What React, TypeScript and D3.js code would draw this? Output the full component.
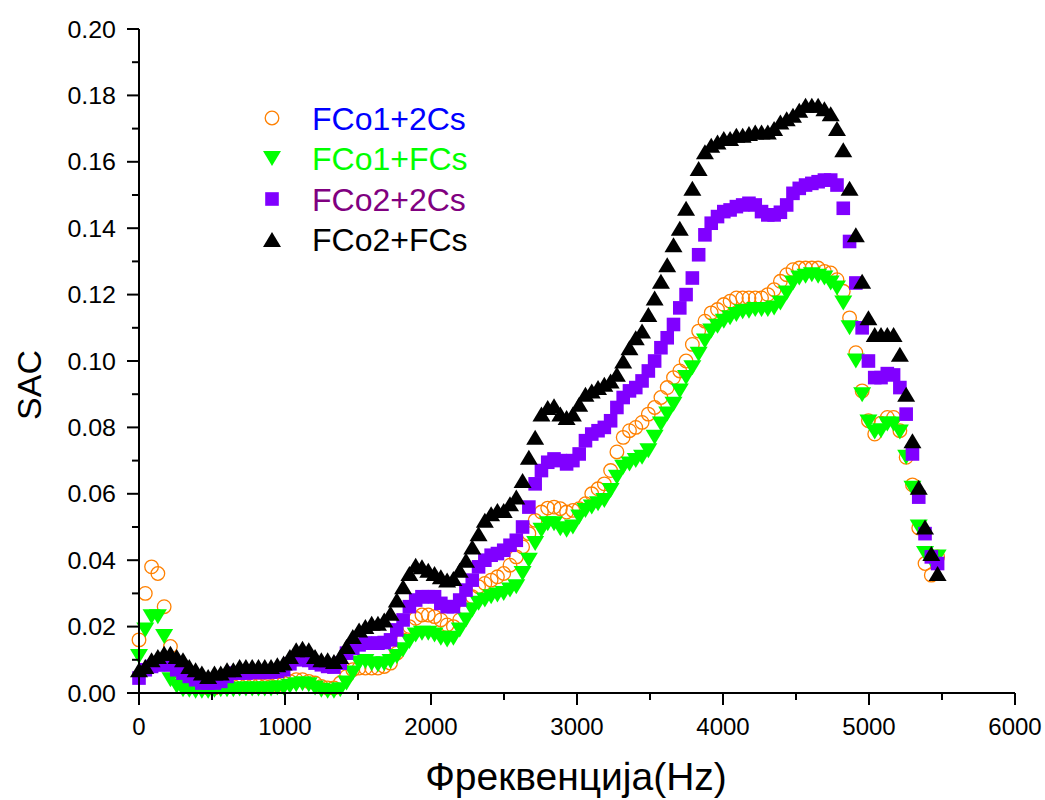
import React from 'react';
import * as d3 from 'd3';

// Frequency bins (Hz): uniform FFT bin spacing
const FREQ_STEP = 43.07;

const FCO1_2CS = [
  0.016, 0.030, 0.038, 0.036, 0.026, 0.014, 0.008, 0.005, 0.003, 0.002,
  0.002, 0.0015, 0.0015, 0.002, 0.002, 0.002, 0.0022, 0.0022, 0.0022, 0.0022,
  0.002, 0.002, 0.0025, 0.003, 0.0035, 0.004, 0.004, 0.0035, 0.003, 0.002,
  0.0015, 0.0015, 0.003, 0.005, 0.007, 0.0075, 0.0075, 0.0075, 0.0075, 0.008,
  0.009, 0.012, 0.016, 0.020, 0.0225, 0.0235, 0.0235, 0.023, 0.022, 0.0205,
  0.020, 0.022, 0.025, 0.029, 0.032, 0.033, 0.034, 0.035, 0.036, 0.0385,
  0.041, 0.044, 0.048, 0.052, 0.0545, 0.0557, 0.056, 0.0555, 0.0545, 0.055,
  0.0555, 0.057, 0.060, 0.0615, 0.063, 0.067, 0.0726, 0.077, 0.079, 0.080,
  0.0815, 0.084, 0.086, 0.089, 0.092, 0.095, 0.097, 0.100, 0.105, 0.109,
  0.112, 0.1145, 0.1155, 0.117, 0.118, 0.119, 0.119, 0.119, 0.119, 0.119,
  0.120, 0.1215, 0.124, 0.126, 0.1275, 0.128, 0.128, 0.128, 0.128, 0.127,
  0.1265, 0.1245, 0.121, 0.113, 0.1025, 0.091, 0.082, 0.078, 0.0813, 0.083,
  0.083, 0.079, 0.071, 0.0627, 0.0497, 0.039, 0.0355, 0.041,
];

const FCO1_FCS = [
  0.011, 0.019, 0.023, 0.023, 0.017, 0.004, 0.002, 0.001, 0.0008, 0.0005,
  0.0005, 0.0005, 0.0008, 0.001, 0.001, 0.001, 0.0012, 0.0012, 0.0012, 0.0012,
  0.0012, 0.0012, 0.0015, 0.0015, 0.002, 0.0025, 0.0028, 0.0025, 0.0015, 0.0008,
  0.0005, 0.0005, 0.001, 0.003, 0.006, 0.009, 0.0095, 0.0088, 0.0085, 0.0088,
  0.0095, 0.011, 0.013, 0.0155, 0.0175, 0.018, 0.018, 0.0175, 0.0165, 0.016,
  0.0165, 0.019, 0.022, 0.025, 0.027, 0.028, 0.029, 0.0295, 0.030, 0.031,
  0.032, 0.036, 0.040, 0.045, 0.049, 0.051, 0.051, 0.0495, 0.049, 0.050,
  0.053, 0.055, 0.056, 0.057, 0.058, 0.061, 0.065, 0.068, 0.069, 0.070,
  0.071, 0.073, 0.077, 0.081, 0.084, 0.087, 0.091, 0.095, 0.098, 0.102,
  0.106, 0.109, 0.1105, 0.112, 0.113, 0.114, 0.1148, 0.115, 0.1155, 0.1155,
  0.1155, 0.116, 0.1175, 0.1205, 0.1235, 0.125, 0.1255, 0.126, 0.1255, 0.125,
  0.1235, 0.122, 0.1175, 0.110, 0.100, 0.0898, 0.0816, 0.0786, 0.079, 0.081,
  0.081, 0.0786, 0.071, 0.0617, 0.050, 0.042, 0.040, 0.041,
];

const FCO2_2CS = [
  0.0045, 0.007, 0.008, 0.0085, 0.0085, 0.0085, 0.007, 0.006, 0.005, 0.004,
  0.003, 0.003, 0.003, 0.0035, 0.005, 0.006, 0.006, 0.006, 0.0062, 0.0062,
  0.0062, 0.0063, 0.0065, 0.007, 0.0088, 0.010, 0.0105, 0.0098, 0.009, 0.0085,
  0.008, 0.0078, 0.009, 0.012, 0.0135, 0.0145, 0.015, 0.015, 0.015, 0.0152,
  0.016, 0.019, 0.022, 0.026, 0.028, 0.029, 0.029, 0.029, 0.027, 0.026,
  0.026, 0.028, 0.031, 0.034, 0.038, 0.040, 0.0415, 0.042, 0.043, 0.0445,
  0.046, 0.050, 0.056, 0.063, 0.067, 0.0695, 0.0705, 0.070, 0.069, 0.070,
  0.072, 0.076, 0.078, 0.079, 0.080, 0.082, 0.086, 0.089, 0.091, 0.092,
  0.094, 0.097, 0.100, 0.104, 0.107, 0.111, 0.116, 0.120, 0.125, 0.132,
  0.138, 0.1415, 0.1435, 0.145, 0.1455, 0.1465, 0.147, 0.1475, 0.147, 0.145,
  0.144, 0.144, 0.1448, 0.147, 0.1505, 0.152, 0.153, 0.1535, 0.154, 0.1545,
  0.1545, 0.153, 0.146, 0.136, 0.1235, 0.110, 0.100, 0.095, 0.095, 0.0962,
  0.0958, 0.092, 0.084, 0.072, 0.059, 0.048, 0.041, 0.039,
];

const FCO2_FCS = [
  0.007, 0.008, 0.010, 0.011, 0.012, 0.012, 0.011, 0.010, 0.008, 0.007,
  0.006, 0.005, 0.006, 0.006, 0.007, 0.007, 0.008, 0.008, 0.008, 0.008,
  0.008, 0.008, 0.0085, 0.009, 0.011, 0.013, 0.0135, 0.013, 0.011, 0.010,
  0.010, 0.0095, 0.011, 0.014, 0.017, 0.019, 0.020, 0.021, 0.021, 0.022,
  0.024, 0.028, 0.032, 0.036, 0.0385, 0.038, 0.037, 0.036, 0.035, 0.034,
  0.0345, 0.037, 0.040, 0.044, 0.048, 0.052, 0.054, 0.055, 0.055, 0.057,
  0.059, 0.064, 0.071, 0.077, 0.084, 0.086, 0.0865, 0.084, 0.083, 0.084,
  0.087, 0.090, 0.091, 0.092, 0.093, 0.094, 0.096, 0.100, 0.104, 0.107,
  0.109, 0.114, 0.119, 0.124, 0.129, 0.135, 0.140, 0.146, 0.152, 0.158,
  0.163, 0.165, 0.166, 0.167, 0.167, 0.168, 0.168, 0.1685, 0.169, 0.169,
  0.169, 0.170, 0.172, 0.173, 0.174, 0.1755, 0.177, 0.177, 0.177, 0.176,
  0.1745, 0.170, 0.1636, 0.152, 0.138, 0.124, 0.113, 0.108, 0.108, 0.108,
  0.108, 0.102, 0.090, 0.076, 0.062, 0.050, 0.042, 0.036,
];

const SERIES_NAMES = ['FCo1+2Cs', 'FCo1+FCs', 'FCo2+2Cs', 'FCo2+FCs'];
const X_TICKS = [0, 1000, 2000, 3000, 4000, 5000, 6000];
const Y_TICKS = [0, 0.02, 0.04, 0.06, 0.08, 0.10, 0.12, 0.14, 0.16, 0.18, 0.20];
const X_TITLE = 'Фреквенција(Hz)';
const Y_TITLE = 'SAC';

const FONT = 'Arial, "Liberation Sans", Helvetica, sans-serif';

type Kind = 'circle' | 'down' | 'square' | 'up';

function Marker({ kind, cx, cy, s = 1 }: { kind: Kind; cx: number; cy: number; s?: number }) {
  if (kind === 'circle') {
    return <circle cx={cx} cy={cy} r={6.8 * s} fill="none" stroke="#FF8000" strokeWidth={1.3} />;
  }
  if (kind === 'square') {
    const h = 6.8 * s;
    return <rect x={cx - h} y={cy - h} width={2 * h} height={2 * h} fill="#8000FF" />;
  }
  const w = 9 * s;
  const t = 7.5 * s;
  if (kind === 'up') {
    return <path d={`M${cx},${cy - t}L${cx + w},${cy + t}L${cx - w},${cy + t}Z`} fill="#000" />;
  }
  return <path d={`M${cx},${cy + t}L${cx + w},${cy - t}L${cx - w},${cy - t}Z`} fill="#00FF00" />;
}

export default function App() {
  const W = 1045;
  const H = 800;
  const left = 139;
  const right = 1015;
  const top = 29;
  const bottom = 693;
  const x = d3.scaleLinear().domain([0, 6000]).range([left, right]);
  const y = d3.scaleLinear().domain([0, 0.2]).range([bottom, top]);

  const series: { name: string; kind: Kind; values: number[]; text: string }[] = [
    { name: SERIES_NAMES[0], kind: 'circle', values: FCO1_2CS, text: '#0000FF' },
    { name: SERIES_NAMES[1], kind: 'down', values: FCO1_FCS, text: '#00FF00' },
    { name: SERIES_NAMES[2], kind: 'square', values: FCO2_2CS, text: '#800080' },
    { name: SERIES_NAMES[3], kind: 'up', values: FCO2_FCS, text: '#000000' },
  ];

  const xMinor = d3.range(0, 6001, 500).filter((v) => v % 1000 !== 0);
  const yMinor = d3.range(1, 20, 2).map((v) => v / 100);
  const yl = left - 23;

  return (
    <svg
      width={W}
      height={H}
      style={{ position: 'fixed', left: 0, top: 0, background: '#fff' }}
      fontFamily={FONT}
    >
      <rect x={0} y={0} width={W} height={H} fill="#fff" />
      {/* data */}
      {series.map((s) => (
        <g key={s.name}>
          {s.values.map((v, i) => (
            <Marker key={i} kind={s.kind} cx={x(i * FREQ_STEP)} cy={y(v)} />
          ))}
        </g>
      ))}

      {/* axes */}
      <line x1={left} x2={left} y1={top} y2={bottom + 1} stroke="#000" strokeWidth={2} />
      <line x1={left - 1} x2={right} y1={bottom} y2={bottom} stroke="#000" strokeWidth={2} />
      {Y_TICKS.map((t) => (
        <g key={'y' + t}>
          <line x1={left - 12} x2={left} y1={y(t)} y2={y(t)} stroke="#000" strokeWidth={2} />
          <text
            x={yl}
            y={y(t)}
            dy="0.36em"
            textAnchor="end"
            fontSize={24}
            transform={`translate(${yl},0) scale(1.04,1) translate(${-yl},0)`}
          >
            {t.toFixed(2)}
          </text>
        </g>
      ))}
      {yMinor.map((t) => (
        <line key={'ym' + t} x1={left - 7} x2={left} y1={y(t)} y2={y(t)} stroke="#000" strokeWidth={2} />
      ))}
      {X_TICKS.map((t) => (
        <g key={'x' + t}>
          <line x1={x(t)} x2={x(t)} y1={bottom} y2={bottom + 12} stroke="#000" strokeWidth={2} />
          <text x={x(t)} y={bottom + 42} textAnchor="middle" fontSize={24}>
            {t}
          </text>
        </g>
      ))}
      {xMinor.map((t) => (
        <line key={'xm' + t} x1={x(t)} x2={x(t)} y1={bottom} y2={bottom + 7} stroke="#000" strokeWidth={2} />
      ))}

      {/* titles */}
      <text x={576} y={790} textAnchor="middle" fontSize={39}>
        {X_TITLE}
      </text>
      <text
        transform={`translate(41, ${(top + bottom) / 2 + 24}) rotate(-90)`}
        textAnchor="middle"
        fontSize={34}
      >
        {Y_TITLE}
      </text>

      {/* legend */}
      {series.map((s, i) => {
        const cy = 118 + i * 40.5;
        return (
          <g key={'lg' + s.name}>
            <Marker kind={s.kind} cx={272} cy={cy} s={1} />
            <text x={312} y={cy} dy="0.36em" fontSize={32} fill={s.text}>
              {s.name}
            </text>
          </g>
        );
      })}
    </svg>
  );
}
